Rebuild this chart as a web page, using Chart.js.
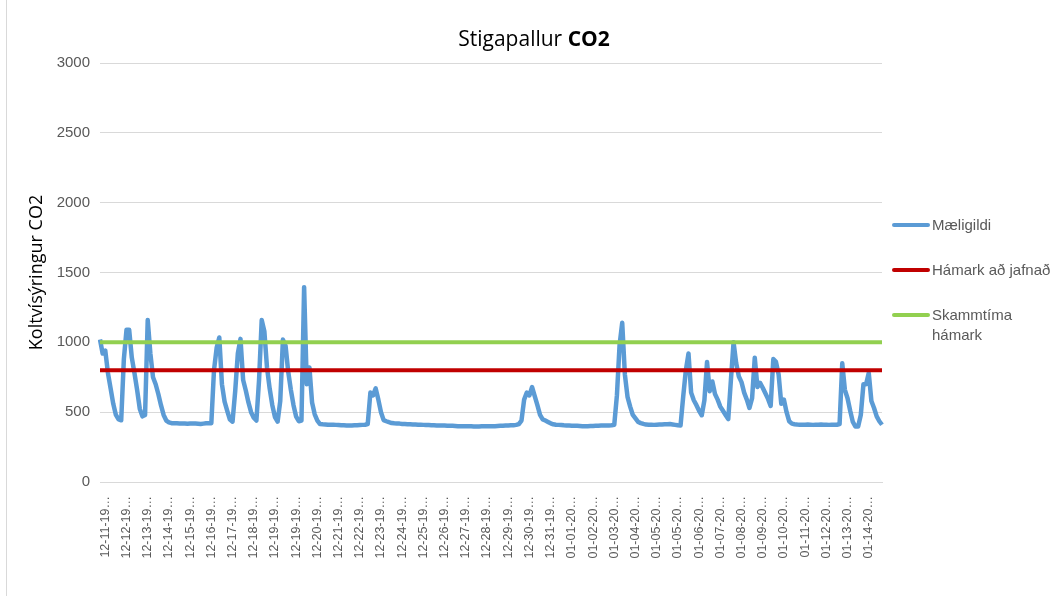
<!DOCTYPE html>
<html>
<head>
<meta charset="utf-8">
<title>Stigapallur CO2</title>
<script src="https://cdn.jsdelivr.net/npm/chart.js@4.4.1/dist/chart.umd.min.js"></script>
<style>
  html, body { margin: 0; padding: 0; background: #fff; }
  #wrap { position: relative; width: 1054px; height: 596px; overflow: hidden; }
  #frame { position: absolute; left: 6px; top: 0; height: 596px; border-left: 1px solid #d9d9d9; }
  #legend { position: absolute; left: 892px; top: 215px; font: 15px "Liberation Sans", Arial, sans-serif; color: #595959; }
  .item { display: flex; align-items: flex-start; line-height: 20px; margin-bottom: 25px; white-space: nowrap; }
  .swatch { width: 38px; height: 4px; margin-top: 8px; margin-right: 2px; border-radius: 2px; flex: none; }
</style>
</head>
<body>
<div id="wrap">
  <canvas id="co2Chart" width="1054" height="596"></canvas>
  <div id="frame"></div>
  <div id="legend"></div>
</div>
<script>
// one label per Excel category interval
const dayLabels = [
  "12-11-19…", "12-12-19…", "12-13-19…", "12-14-19…", "12-15-19…", "12-16-19…",
  "12-17-19…", "12-18-19…", "12-19-19…", "12-19-19…", "12-20-19…", "12-21-19…",
  "12-22-19…", "12-23-19…", "12-24-19…", "12-25-19…", "12-26-19…", "12-27-19…",
  "12-28-19…", "12-29-19…", "12-30-19…", "12-31-19…", "01-01-20…", "01-02-20…",
  "01-03-20…", "01-04-20…", "01-05-20…", "01-05-20…", "01-06-20…", "01-07-20…",
  "01-08-20…", "01-09-20…", "01-10-20…", "01-11-20…", "01-12-20…", "01-13-20…",
  "01-14-20…"
];
const perDay = 8;

// Mæligildi (ppm), 8 readings per label interval
const maeligildi = [
  1020, 920, 940, 780, 670, 560, 480, 448,
  442, 880, 1090, 1090, 890, 780, 660, 525,
  470, 480, 1160, 920, 750, 700, 630, 550,
  480, 440, 427, 421, 420, 420, 419, 418,
  418, 417, 418, 419, 418, 417, 416, 418,
  420, 420, 421, 800, 960, 1035, 700, 575,
  510, 447, 432, 650, 920, 1025, 730, 655,
  570, 500, 460, 440, 730, 1160, 1080, 820,
  670, 550, 465, 432, 580, 1020, 975, 790,
  660, 550, 468, 435, 440, 1395, 700, 820,
  570, 485, 440, 415, 413, 412, 410, 410,
  410, 409, 408, 407, 406, 405, 405, 405,
  406, 407, 408, 409, 410, 415, 640, 620,
  670, 590, 500, 443, 435, 428, 422, 420,
  419, 418, 416, 415, 414, 413, 412, 411,
  410, 410, 409, 408, 408, 407, 406, 405,
  405, 404, 404, 403, 403, 402, 401, 400,
  400, 400, 400, 399, 399, 398, 398, 398,
  399, 399, 399, 400, 400, 400, 401, 402,
  403, 404, 405, 406, 407, 409, 415, 440,
  590, 640, 620, 680, 615, 550, 480, 448,
  440, 430, 420, 413, 410, 409, 408, 406,
  405, 404, 403, 402, 402, 401, 400, 400,
  400, 401, 401, 402, 403, 404, 404, 405,
  405, 406, 410, 620, 980, 1140, 770, 610,
  540, 480, 455, 430, 422, 416, 411, 410,
  410, 409, 410, 411, 412, 413, 414, 415,
  412, 409, 406, 405, 610, 800, 920, 640,
  585, 550, 510, 478, 585, 860, 650, 720,
  630, 590, 540, 510, 480, 450, 730, 1000,
  850, 755, 715, 640, 590, 530, 600, 890,
  680, 710, 675, 635, 595, 545, 880, 860,
  770, 560, 590, 500, 435, 418, 414, 411,
  410, 410, 410, 411, 410, 409, 410, 410,
  411, 410, 410, 409, 410, 410, 410, 415,
  850, 660, 600, 510, 430, 397, 398, 480,
  700, 700, 780, 580, 530, 470, 435, 410
];

const hamarkJafnad = 800;
const skammtimaHamark = 1000;

const labels = maeligildi.map((v, i) => dayLabels[Math.floor(i / perDay)]);

const titleParts = [
  { text: "Stigapallur ", bold: false },
  { text: "CO2", bold: true }
];

const mixedTitle = {
  id: "mixedTitle",
  afterDraw(chart) {
    const ctx = chart.ctx;
    const fam = '"Open Sans", sans-serif';
    ctx.save();
    let total = 0;
    titleParts.forEach((p) => {
      ctx.font = (p.bold ? "bold " : "") + "21px " + fam;
      p.w = ctx.measureText(p.text).width;
      total += p.w;
    });
    let x = 534 - total / 2;
    ctx.fillStyle = "#000";
    ctx.textBaseline = "middle";
    titleParts.forEach((p) => {
      ctx.font = (p.bold ? "bold " : "") + "21px " + fam;
      ctx.fillText(p.text, x, 40);
      x += p.w;
    });
    ctx.restore();
  }
};

const ctx = document.getElementById("co2Chart").getContext("2d");
const chart = new Chart(ctx, {
  type: "line",
  data: {
    labels: labels,
    datasets: [
      { label: "Mæligildi", data: maeligildi, borderColor: "#5b9bd5", borderWidth: 4.5, order: 3 },
      { label: "Hámark að jafnað", data: labels.map(() => hamarkJafnad), borderColor: "#c00000", borderWidth: 4, order: 2 },
      { label: "Skammtíma hámark", data: labels.map(() => skammtimaHamark), borderColor: "#92d050", borderWidth: 4, order: 1,
        legendLines: ["Skammtíma", "hámark"] }
    ]
  },
  options: {
    responsive: false,
    animation: false,
    devicePixelRatio: 1,
    layout: { padding: { top: 63, right: 172, bottom: 0, left: 0 } },
    elements: {
      point: { radius: 0 },
      line: { tension: 0, fill: false, borderJoinStyle: "round", borderCapStyle: "butt" }
    },
    plugins: { legend: { display: false }, tooltip: { enabled: false } },
    scales: {
      x: {
        grid: { display: false },
        border: { display: true, color: "#d9d9d9", width: 1 },
        ticks: {
          autoSkip: false, minRotation: 90, maxRotation: 90, padding: 6,
          color: "#595959", font: { family: '"Liberation Sans", Arial, sans-serif', size: 12.5 },
          callback: (v, i) => (i % perDay === 2 ? dayLabels[(i - 2) / perDay] : null)
        },
        afterFit: (scale) => { scale.height = 114; }
      },
      y: {
        min: 0, max: 3000,
        grid: { color: "#d9d9d9", drawTicks: false },
        border: { display: false },
        ticks: {
          stepSize: 500, padding: 10, color: "#595959",
          font: { family: '"Liberation Sans", Arial, sans-serif', size: 15 },
          callback: (v) => String(v)
        },
        title: {
          display: true, text: "Koltvísýringur CO2", color: "#000",
          font: { family: '"Open Sans", sans-serif', size: 18 },
          padding: { top: 26, bottom: 0 }
        },
        afterFit: (scale) => { scale.width = 100; }
      }
    }
  },
  plugins: [mixedTitle]
});

// legend on the right, built from the datasets
const legendEl = document.getElementById("legend");
chart.data.datasets.forEach((ds) => {
  const item = document.createElement("div");
  item.className = "item";
  const sw = document.createElement("span");
  sw.className = "swatch";
  sw.style.background = ds.borderColor;
  const txt = document.createElement("span");
  (ds.legendLines || [ds.label]).forEach((line, k) => {
    if (k) txt.appendChild(document.createElement("br"));
    txt.appendChild(document.createTextNode(line));
  });
  item.appendChild(sw);
  item.appendChild(txt);
  legendEl.appendChild(item);
});
</script>
</body>
</html>
